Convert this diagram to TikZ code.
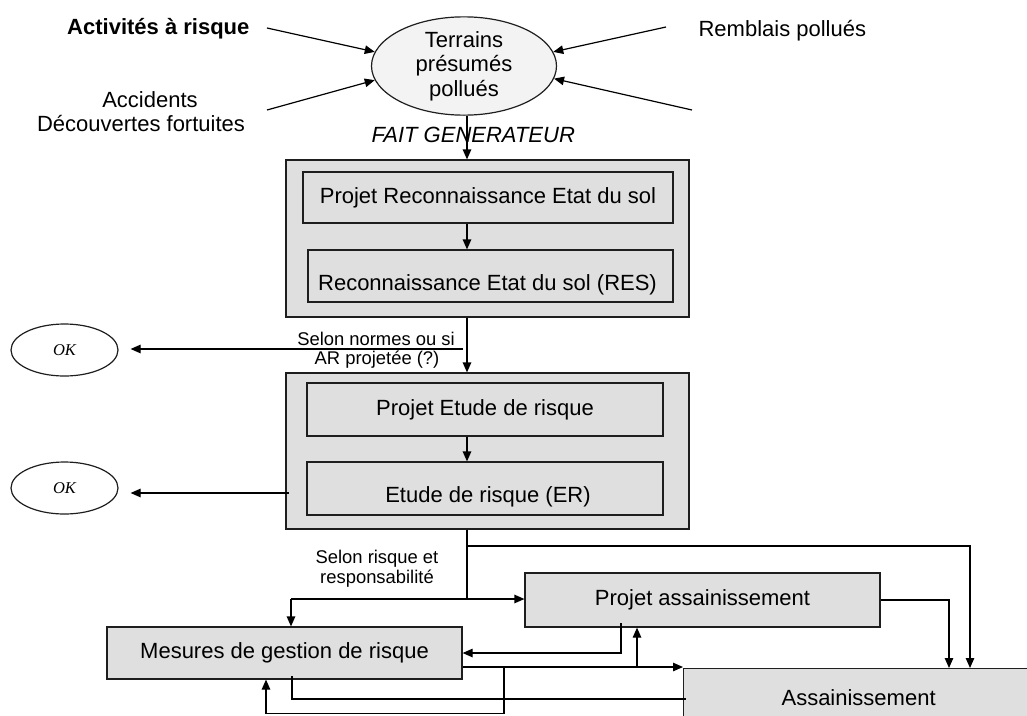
\documentclass[tikz,border=0pt]{standalone}
\usepackage{fontspec}
\setmainfont{Liberation Sans}
\newfontfamily\okfont{Liberation Serif}
\usetikzlibrary{arrows.meta,shapes.geometric}
\definecolor{boxgrey}{HTML}{DFDFDF}
\definecolor{palegrey}{HTML}{F3F3F3}
\definecolor{edge}{HTML}{1E1E1E}
\begin{document}
\begin{tikzpicture}[x=1pt,y=-1pt,line width=1.2pt,
  font=\fontsize{22}{24.5}\selectfont,
  box/.style={draw=edge,fill=boxgrey,inner sep=0pt},
  arr/.style={-{Triangle[length=10pt,width=8.5pt]}},
  small/.style={font=\fontsize{18.4}{21}\selectfont,inner sep=0pt},
  plain/.style={inner sep=0pt},
  okshape/.style={ellipse,draw=edge,fill=white,minimum width=107pt,minimum height=52pt,
    inner sep=0pt,font=\okfont\itshape\fontsize{16.5}{18}\selectfont}]
\useasboundingbox (0,0) rectangle (1027,715);
\clip (0,0) rectangle (1027,715);

% --- origin of the procedure ---
\node[ellipse,draw=edge,fill=palegrey,minimum width=185pt,minimum height=89pt,
      inner sep=0pt,align=center] (terr) at (464,66) {Terrains\\présumés\\pollués};
\node[plain,anchor=base east,font=\bfseries\fontsize{22}{24.5}\selectfont] (act) at (250,34) {Activités à risque};
\node[plain,anchor=base] (acc) at (150,107) {Accidents};
\node[plain,anchor=base] (dec) at (141,131) {Découvertes fortuites};
\node[plain,anchor=base west] (remb) at (698,36) {Remblais pollués};
\node[plain,anchor=base west,font=\itshape\fontsize{22}{24.5}\selectfont] (fait) at (371,142) {FAIT GENERATEUR};

\coordinate (a1) at (267,28);
\coordinate (a2) at (267,110);
\coordinate (a3) at (666,27);
\coordinate (a4) at (692,110);
\draw[arr] (a1) -- (terr.171);
\draw[arr] (a2) -- (terr.189);
\draw[arr] (a3) -- (terr.9);
\draw[arr] (a4) -- (terr.352);

% --- soil survey group ---
\node[box,minimum width=403pt,minimum height=157pt] (grp1) at (487.5,238.5) {};
\node[box,minimum width=370pt,minimum height=51pt] (pres) at (488,197.5) {Projet Reconnaissance Etat du sol};
\node[box,minimum width=365pt,minimum height=52pt,
      label={[xshift=-3pt,yshift=-9pt]center:Reconnaissance Etat du sol (RES)}] (res) at (490.5,276) {};

% --- risk study group ---
\node[box,minimum width=403pt,minimum height=156pt] (grp2) at (487.5,451) {};
\node[box,minimum width=356pt,minimum height=53pt] (pet) at (485,409.5) {Projet Etude de risque};
\node[box,minimum width=356pt,minimum height=53pt,
      label={[xshift=3pt,yshift=-8.5pt]center:Etude de risque (ER)}] (er) at (485,488.5) {};

% --- exits ---
\node[okshape] (ok1) at (64.5,350) {OK};
\node[okshape] (ok2) at (64.5,488) {OK};
\node[small,anchor=base] (lbl1a) at (376,345) {Selon normes ou si};
\node[small,anchor=base] (lbl1b) at (377,364) {AR projetée (?)};
\node[small,anchor=base] (lbl2a) at (377,563) {Selon risque et};
\node[small,anchor=base] (lbl2b) at (377,583) {responsabilité};

% --- remediation ---
\node[box,minimum width=355pt,minimum height=54pt] (pa) at (702.5,600) {Projet assainissement};
\node[box,minimum width=355pt,minimum height=52pt] (mg) at (284.5,653) {Mesures de gestion de risque};
\node[box,minimum width=360pt,minimum height=64pt,anchor=north west,
      label={[xshift=-5pt,yshift=3pt]center:Assainissement}] (as) at (683,668) {};

% --- main column ---
\coordinate (col) at (467,0);
\draw[arr] (terr.south -| col) -- (col |- grp1.north);
\draw[arr] (pres.south -| col) -- (col |- res.north);
\draw[arr] (grp1.south -| col) -- (col |- grp2.north);
\draw[arr] (pet.south -| col) -- (col |- er.north);

\coordinate (s1) at (463,349);
\draw[arr,shorten >=12pt] (s1) -- (s1 -| ok1.east);
\coordinate (s2) at (289,493);
\draw[arr,shorten >=12pt] (s2) -- (s2 -| ok2.east);

% --- after the risk study ---
\coordinate (j1) at (291,599);
\coordinate (j1c) at (467,600);
\draw (grp2.south -| col) -- (j1c);
\draw[arr] (j1) -- (j1 -| pa.west);
\draw[arr] (j1) -- (j1 |- mg.north);

\coordinate (j2) at (467,546);
\coordinate (r2) at (970,546);
\draw[arr] (j2) -- (r2) -- (r2 |- as.north);
\coordinate (r1) at (949,600);
\draw[arr] (pa.east) -- (r1) -- (r1 |- as.north);

\coordinate (b0) at (621,623);
\coordinate (b1) at (621,653);
\draw[arr] (b0) -- (b1) -- (b1 -| mg.east);

\coordinate (m1) at (0,667);
\draw[arr] (mg.east |- m1) -- (m1 -| as.west);
\coordinate (u1) at (637,667);
\draw[arr] (u1) -- (u1 |- pa.south);

\coordinate (d1) at (504,667);
\coordinate (d2) at (504,713.5);
\coordinate (d3) at (266,713.5);
\draw[arr] (d1) -- (d2) -- (d3) -- (d3 |- mg.south);

\coordinate (e1) at (292,676);
\coordinate (e2) at (292,699);
\coordinate (e3) at (686,699);
\draw (e1) -- (e2) -- (e3);
\end{tikzpicture}
\end{document}
